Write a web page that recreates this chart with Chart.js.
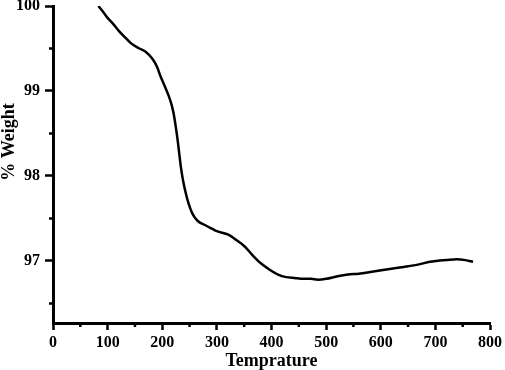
<!DOCTYPE html>
<html>
<head>
<meta charset="utf-8">
<script src="https://cdn.jsdelivr.net/npm/chart.js@4.4.1/dist/chart.umd.min.js"></script>
<style>
html,body{margin:0;padding:0;background:#fff;}
#wrap{width:505px;height:370px;position:relative;}
</style>
</head>
<body>
<div id="wrap"><canvas id="c" width="505" height="370"></canvas></div>
<script>
const temperature = [83, 92, 100, 110, 120, 132, 143, 158, 170, 182, 190, 197, 205, 212, 217, 221, 224.5, 228, 231, 234, 238, 243, 248, 255, 265, 279, 291, 300, 321, 335, 351, 365, 381, 396, 412, 427, 442, 458, 472, 485, 500, 521, 540, 560, 581, 610, 642, 670, 690, 702, 720, 739, 755, 769];
const weight = [100.0, 99.93, 99.86, 99.79, 99.71, 99.63, 99.56, 99.50, 99.46, 99.38, 99.29, 99.17, 99.05, 98.94, 98.84, 98.73, 98.59, 98.43, 98.27, 98.11, 97.95, 97.80, 97.68, 97.56, 97.47, 97.42, 97.38, 97.35, 97.31, 97.25, 97.17, 97.07, 96.97, 96.90, 96.84, 96.81, 96.80, 96.79, 96.79, 96.78, 96.79, 96.82, 96.84, 96.85, 96.87, 96.90, 96.93, 96.96, 96.99, 97.00, 97.01, 97.02, 97.01, 96.99];
const xMajorTicks = [0, 100, 200, 300, 400, 500, 600, 700, 800];
const xMinorTicks = [50, 150, 250, 350, 450, 550, 650, 750];
const yMajorTicks = [97, 98, 99, 100];
const yMinorTicks = [96.5, 97.5, 98.5, 99.5];

const points = temperature.map((t, i) => ({x: t, y: weight[i]}));
const FONT = '"Liberation Serif", "Times New Roman", serif';
const NB = '\u00A0';

const minorTickPlugin = {
  id: 'minorTicks',
  afterDraw(chart) {
    const ctx = chart.ctx;
    const xs = chart.scales.x, ys = chart.scales.y;
    ctx.save();
    ctx.strokeStyle = '#000';
    ctx.lineWidth = 2.5;
    ctx.beginPath();
    xMinorTicks.forEach(v => {
      const px = xs.getPixelForValue(v);
      ctx.moveTo(px, xs.top); ctx.lineTo(px, xs.top + 4);
    });
    yMinorTicks.forEach(v => {
      const py = ys.getPixelForValue(v);
      ctx.moveTo(ys.right, py); ctx.lineTo(ys.right - 4, py);
    });
    ctx.stroke();
    ctx.restore();
  }
};

new Chart(document.getElementById('c'), {
  type: 'line',
  data: {
    datasets: [{
      data: points,
      borderColor: '#000',
      borderWidth: 2.5,
      pointRadius: 0,
      cubicInterpolationMode: 'monotone',
      fill: false
    }]
  },
  options: {
    responsive: false,
    animation: false,
    layout: {padding: {top: 6, right: 0, left: 0, bottom: 0}},
    plugins: {legend: {display: false}, tooltip: {enabled: false}},
    scales: {
      x: {
        type: 'linear',
        min: 0, max: 800,
        afterBuildTicks: s => { s.ticks = xMajorTicks.map(v => ({value: v})); },
        afterFit: s => { s.height = 47; },
        border: {display: true, color: '#000', width: 3},
        grid: {drawOnChartArea: false, drawTicks: true, tickLength: 7, tickWidth: 2.5, tickColor: '#000'},
        ticks: {color: '#000', padding: 3, font: {family: FONT, size: 16, weight: 'bold'}, maxRotation: 0},
        title: {display: true, text: 'Temprature', color: '#000', padding: {top: 0, bottom: 0}, font: {family: FONT, size: 18, weight: 'bold', lineHeight: 1}}
      },
      y: {
        type: 'linear',
        min: 96.27, max: 100,
        afterBuildTicks: s => { s.ticks = yMajorTicks.map(v => ({value: v})); },
        afterFit: s => { s.width = 53; s.paddingTop = 0; s.paddingBottom = 0; },
        border: {display: true, color: '#000', width: 3},
        grid: {drawOnChartArea: false, drawTicks: true, tickLength: 8, tickWidth: 2.5, tickColor: '#000'},
        ticks: {color: '#000', padding: 5, font: {family: FONT, size: 16, weight: 'bold'}},
        title: {display: true, text: NB.repeat(10) + '% Weight', color: '#000', padding: {top: 0, bottom: 0}, font: {family: FONT, size: 18, weight: 'bold', lineHeight: 1}}
      }
    }
  },
  plugins: [minorTickPlugin]
});
</script>
</body>
</html>
